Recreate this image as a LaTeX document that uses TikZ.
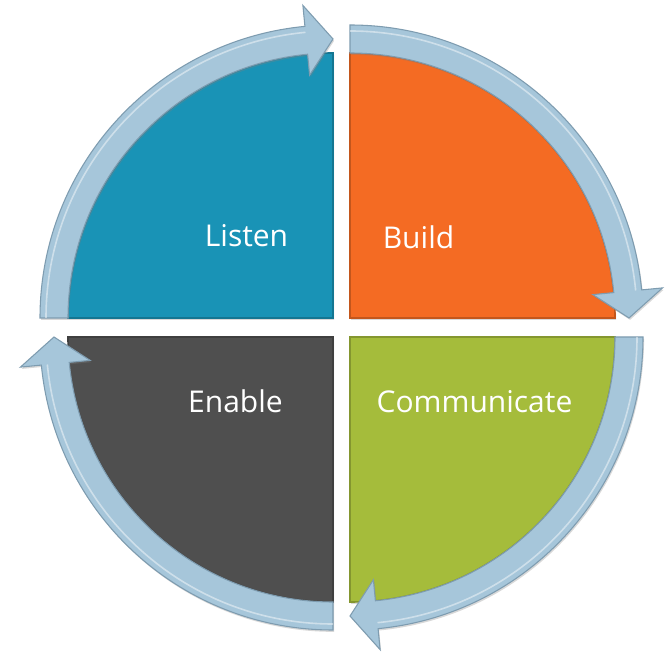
\documentclass[tikz,border=0pt]{standalone}
\usepackage{fontspec}
\setmainfont{Open Sans}
\usetikzlibrary{shadows}
\definecolor{tealq}{HTML}{1993B6}
\definecolor{orangeq}{HTML}{F46B23}
\definecolor{greenq}{HTML}{A5BC3B}
\definecolor{grayq}{HTML}{4F4F4F}
\definecolor{ringfill}{HTML}{A6C6DA}
\definecolor{ringedge}{HTML}{7E9CB0}
\tikzset{
  quad/.style={line width=1.2pt, line join=miter,
    drop shadow={shadow xshift=0.8pt,shadow yshift=-1.4pt,opacity=0.3}},
  ring/.style={fill=ringfill, draw=ringedge, line width=0.8pt, line join=miter,
    drop shadow={shadow xshift=0.8pt,shadow yshift=-1.4pt,opacity=0.3}},
  ringhl/.style={draw=white, opacity=0.45, line width=1.2pt},
  lbl/.style={text=white, font=\fontsize{22.5}{27}\selectfont, anchor=base, inner sep=0pt}
}
\newcommand\quadpiece[4]{%
  \begin{scope}[shift={(#1,#2)}]
    \pgfmathsetmacro\qend{#3+90}
    \path[quad, fill=#4, draw=#4!80!black] (0,0) -- (#3:265)
      arc[start angle=#3, end angle=\qend, radius=265] -- cycle;
  \end{scope}}
\newcommand\ringarrow[3]{%
  \begin{scope}[shift={(#1,#2)}]
    \pgfmathsetmacro\rbase{#3-84.5}
    \pgfmathsetmacro\rtip{#3-90}
    \path[ring] (#3:293) arc[start angle=#3, end angle=\rbase, radius=293]
      -- (\rbase:314) -- (\rtip:279) -- (\rbase:244) -- (\rbase:265)
      arc[start angle=\rbase, end angle=#3, radius=265] -- cycle;
    \draw[ringhl] (#3:287) arc[start angle=#3, end angle=\rbase, radius=287];
  \end{scope}}
\begin{document}
\begin{tikzpicture}[x=0.75pt,y=0.75pt]
  \useasboundingbox (0,0) rectangle (670,653);
  \fill[white] (0,0) rectangle (670,653);
  % quadrants
  \quadpiece{333}{335}{90}{tealq}
  \quadpiece{350}{335}{0}{orangeq}
  \quadpiece{350}{316}{270}{greenq}
  \quadpiece{333}{316}{180}{grayq}
  % circular arrows
  \ringarrow{333}{335}{180}
  \ringarrow{350}{335}{90}
  \ringarrow{350}{316}{360}
  \ringarrow{333}{316}{270}
  % labels
  \node[lbl] (listen) at (246.5,406) {Listen};
  \node[lbl] (build) at (418.5,404) {Build};
  \node[lbl] (enable) at (235.5,240) {Enable};
  \node[lbl] (communicate) at (474.5,240) {Communicate};
\end{tikzpicture}
\end{document}
